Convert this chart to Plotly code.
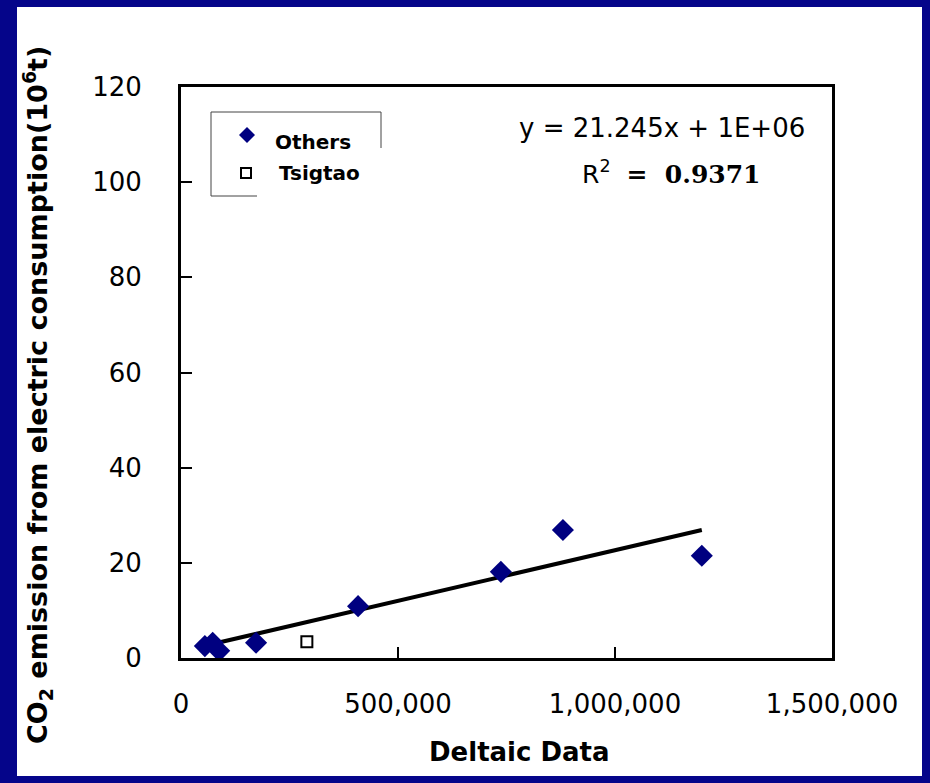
import plotly.graph_objects as go

# ---- data ----
others_x = [55000, 73000, 88000, 173000, 408000, 737000, 880000, 1200000]
others_y = [2.5, 3.2, 1.5, 3.2, 10.9, 18.1, 26.9, 21.5]
tsigtao_x = [290000]
tsigtao_y = [3.4]

x_tick_vals = [0, 500000, 1000000, 1500000]
y_tick_vals = [0, 20, 40, 60, 80, 100, 120]

# linear trend (tonnes): y = slope * x + intercept
trend_slope = 21.245
trend_intercept = 1.4e6
r_squared = 0.9371

# ---- layout geometry (pixels) ----
W, H = 930, 783
L, R, T, B = 181, 832, 87, 658


def px(X):
    return (X - L) / (R - L)


def py(Y):
    return (B - Y) / (B - T)


all_x = others_x + tsigtao_x
tx = [min(all_x), max(all_x)]
ty = [(trend_slope * v + trend_intercept) / 1e6 for v in tx]

fig = go.Figure()

fig.add_trace(go.Scatter(
    x=tx, y=ty, mode="lines",
    line=dict(color="black", width=4),
    showlegend=False, hoverinfo="skip",
))
fig.add_trace(go.Scatter(
    x=others_x, y=others_y, mode="markers", name="Others",
    marker=dict(symbol="diamond", size=17, color="#000080"),
    showlegend=False,
))
fig.add_trace(go.Scatter(
    x=tsigtao_x, y=tsigtao_y, mode="markers", name="Tsigtao",
    marker=dict(symbol="square-open", size=11, color="black",
                line=dict(width=2, color="black")),
    showlegend=False,
))

shapes = []
# white slide panel
shapes.append(dict(type="rect", xref="paper", yref="paper",
                   x0=px(17), x1=px(922), y0=py(776), y1=py(7),
                   fillcolor="white", line=dict(width=0), layer="below"))

# legend frame (partly hidden behind the second entry)
leg_line = dict(color="#444444", width=1)
for (x0, y0, x1, y1) in [(211, 112, 381, 112), (211, 112, 211, 196),
                         (381, 112, 381, 148), (211, 196, 257, 196)]:
    shapes.append(dict(type="line", xref="paper", yref="paper",
                       x0=px(x0), y0=py(y0), x1=px(x1), y1=py(y1),
                       line=leg_line))

# legend symbols
cx, cy, r = 247, 135, 8
diamond = "M {} {} L {} {} L {} {} L {} {} Z".format(
    px(cx - r), py(cy), px(cx), py(cy - r), px(cx + r), py(cy), px(cx), py(cy + r))
shapes.append(dict(type="path", xref="paper", yref="paper", path=diamond,
                   fillcolor="#000080", line=dict(width=0)))
sx, sy, s = 246, 173, 5
shapes.append(dict(type="rect", xref="paper", yref="paper",
                   x0=px(sx - s), x1=px(sx + s), y0=py(sy + s), y1=py(sy - s),
                   fillcolor="white", line=dict(color="black", width=2)))

annotations = [
    dict(x=px(273), y=py(142), text="<b>Others</b>", xanchor="left", yanchor="middle",
         font=dict(family="DejaVu Sans", size=20, color="black")),
    dict(x=px(277), y=py(173), text="<b>Tsigtao</b>", xanchor="left", yanchor="middle",
         font=dict(family="DejaVu Sans", size=20, color="black")),
    dict(x=px(662), y=py(128),
         text="y = {:.3f}x + {:.0E}".format(trend_slope, 1e6),
         xanchor="center", yanchor="middle",
         font=dict(family="DejaVu Sans", size=26, color="black")),
    dict(x=px(671), y=py(172),
         text="R<sup>2</sup>  <span style='font-family:DejaVu Serif'><b>=  {}</b></span>".format(r_squared),
         xanchor="center", yanchor="middle",
         font=dict(family="DejaVu Sans", size=25, color="black")),
    dict(x=px(519), y=py(752), text="<b>Deltaic Data</b>", xanchor="center", yanchor="middle",
         font=dict(family="DejaVu Sans", size=26, color="black")),
    dict(x=px(37), y=py(395), textangle=-90,
         text="<b>CO<sub>2</sub> emission from electric consumption(10<sup>6</sup>t)</b>",
         xanchor="center", yanchor="middle",
         font=dict(family="DejaVu Sans", size=27, color="black")),
]
for a in annotations:
    a.update(xref="paper", yref="paper", showarrow=False)

fig.update_layout(
    width=W, height=H,
    margin=dict(l=L, r=W - R, t=T, b=H - B, pad=0),
    paper_bgcolor="#05058a",
    plot_bgcolor="white",
    shapes=shapes,
    annotations=annotations,
    showlegend=False,
    xaxis=dict(
        range=[0, 1500000], tickvals=x_tick_vals, tickformat=",d",
        ticks="inside", ticklen=11, tickwidth=2, tickcolor="black",
        showline=True, linecolor="black", linewidth=3, mirror=True,
        showgrid=False, zeroline=False, ticklabelstandoff=21,
        tickfont=dict(family="DejaVu Sans", size=26, color="black"),
    ),
    yaxis=dict(
        range=[0, 120], tickvals=y_tick_vals,
        ticks="inside", ticklen=11, tickwidth=2, tickcolor="black",
        showline=True, linecolor="black", linewidth=3, mirror=True,
        showgrid=False, zeroline=False, ticklabelstandoff=31,
        tickfont=dict(family="DejaVu Sans", size=26, color="black"),
    ),
)

fig.write_html("out.html")
